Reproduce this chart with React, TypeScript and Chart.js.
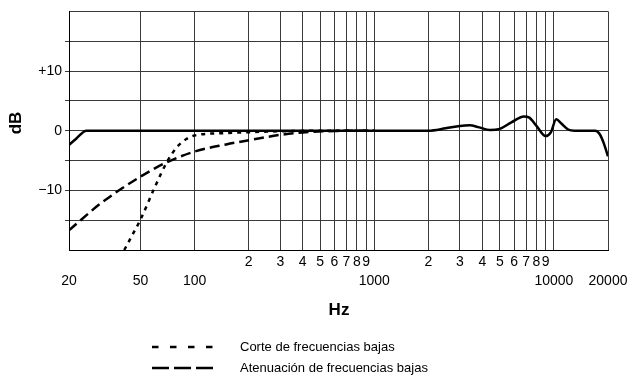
import React, { useEffect, useRef } from "react";
import { Chart, registerables } from "chart.js";
Chart.register(...registerables);

// Frequency response (solid)
const responseFreq = [20, 22, 25, 30, 50, 100, 500, 1000, 2000, 2500, 3000, 3400, 3800, 4400, 5000, 5800, 6800, 7300, 8000, 9000, 9600, 10300, 11000, 12000, 13000, 17000, 18000, 19000, 20000];
const responseDb = [-2.4, -1.3, 0, 0, 0, 0, 0, 0, 0, 0.4, 0.8, 0.9, 0.6, 0.1, 0.3, 1.4, 2.4, 2.2, 0.8, -0.9, -0.3, 1.9, 1.2, 0.2, 0, 0, -0.6, -2.2, -4.3];

// Low cut (dotted)
const lowCutFreq = [40.6, 45, 50, 60, 70, 80, 90, 100, 150, 200, 300, 500, 1000];
const lowCutDb = [-20, -17.5, -14.9, -9.5, -5.3, -2.7, -1.4, -0.8, -0.4, -0.25, -0.1, 0, 0];

// Low roll-off (dashed)
const rollOffFreq = [20, 30, 50, 70, 100, 150, 200, 300, 400, 600, 1000];
const rollOffDb = [-16.7, -12.2, -7.7, -5.3, -3.5, -2.3, -1.6, -0.7, -0.3, -0.05, 0];

const xTickValues = [20, 50, 100, 200, 300, 400, 500, 600, 700, 800, 900, 1000, 2000, 3000, 4000, 5000, 6000, 7000, 8000, 9000, 10000, 20000];
const xLowerLabels: Record<number, string> = { 20: "20", 50: "50", 100: "100", 1000: "1000", 10000: "10000", 20000: "20000" };
const yLabels: Record<number, string> = { 10: "+10", 0: "0", [-10]: "\u221210" };

const legendItems = ["Corte de frecuencias bajas", "Atenuación de frecuencias bajas"];
const xTitle = "Hz";
const yTitle = "dB";

const FONT = "'Liberation Sans', Arial, sans-serif";
const GRID = "#3a3a3a";

const zip = (xs: number[], ys: number[]) => xs.map((x, i) => ({ x, y: ys[i] }));

const overlayPlugin = {
  id: "overlay",
  afterDraw(chart: any) {
    const ctx = chart.ctx as CanvasRenderingContext2D;
    ctx.save();
    ctx.fillStyle = "#000";
    // axis titles
    ctx.font = `bold 17px ${FONT}`;
    ctx.textAlign = "center";
    ctx.textBaseline = "middle";
    ctx.fillText(xTitle, 339, 310);
    ctx.save();
    ctx.translate(16.5, 123);
    ctx.rotate(-Math.PI / 2);
    ctx.fillText(yTitle, 0, 0);
    ctx.restore();
    // legend
    ctx.strokeStyle = "#000";
    ctx.lineWidth = 2.5;
    ctx.setLineDash([6.5, 11.5]);
    ctx.beginPath();
    ctx.moveTo(152, 347);
    ctx.lineTo(214, 347);
    ctx.stroke();
    ctx.setLineDash([17, 5]);
    ctx.beginPath();
    ctx.moveTo(152, 368);
    ctx.lineTo(214, 368);
    ctx.stroke();
    ctx.setLineDash([]);
    ctx.font = `13px ${FONT}`;
    ctx.textAlign = "left";
    ctx.fillText(legendItems[0], 240, 347);
    ctx.fillText(legendItems[1], 240, 368);
    ctx.restore();
  },
};

export default function App() {
  const ref = useRef<HTMLCanvasElement>(null);
  useEffect(() => {
    if (!ref.current) return;
    const chart = new Chart(ref.current, {
      type: "line",
      data: {
        datasets: [
          {
            label: "Respuesta",
            data: zip(responseFreq, responseDb),
            borderColor: "#000",
            borderWidth: 2.5,
            pointRadius: 0,
            cubicInterpolationMode: "monotone",
            order: 0,
          },
          {
            label: legendItems[0],
            data: zip(lowCutFreq, lowCutDb),
            borderColor: "#000",
            borderWidth: 2.5,
            borderDash: [4, 5],
            pointRadius: 0,
            cubicInterpolationMode: "monotone",
            order: 1,
          },
          {
            label: legendItems[1],
            data: zip(rollOffFreq, rollOffDb),
            borderColor: "#000",
            borderWidth: 2.5,
            borderDash: [10, 5],
            pointRadius: 0,
            cubicInterpolationMode: "monotone",
            order: 2,
          },
        ],
      },
      options: {
        animation: false,
        responsive: false,
        maintainAspectRatio: false,
        layout: { padding: { top: 9, right: 27, left: 0, bottom: 0 } },
        plugins: { legend: { display: false }, tooltip: { enabled: false } },
        scales: {
          x: {
            type: "logarithmic",
            min: 20,
            max: 20000,
            afterBuildTicks: (scale: any) => {
              scale.ticks = xTickValues.map((v) => ({ value: v }));
            },
            afterFit: (scale: any) => {
              scale.height = 127;
            },
            grid: { color: GRID, lineWidth: 1, drawTicks: false },
            border: { color: "#000", width: 1 },
            ticks: {
              autoSkip: false,
              maxRotation: 0,
              padding: 3,
              color: "#000",
              font: { family: FONT, size: 14, lineHeight: 1.32 },
              callback: (value: any) => {
                const v = Number(value);
                if (xLowerLabels[v] !== undefined) return ["", xLowerLabels[v]];
                const mant = v / Math.pow(10, Math.floor(Math.log10(v) + 1e-9));
                return [String(Math.round(mant))];
              },
            },
          },
          y: {
            type: "linear",
            min: -20,
            max: 20,
            afterFit: (scale: any) => {
              scale.width = 69;
            },
            grid: {
              color: GRID,
              lineWidth: 1,
              tickLength: 4,
              tickColor: (c: any) => (c.tick && Math.abs(c.tick.value) === 20 ? "rgba(0,0,0,0)" : GRID),
            },
            border: { color: "#000", width: 1 },
            ticks: {
              stepSize: 5,
              padding: 3,
              color: "#000",
              font: { family: FONT, size: 14 },
              callback: (value: any) => {
                const v = Number(value);
                return yLabels[v] !== undefined ? yLabels[v] : "";
              },
            },
          },
        },
      },
      plugins: [overlayPlugin],
    } as any);
    return () => chart.destroy();
  }, []);
  return (
    <div style={{ position: "absolute", left: 0, top: 0, width: 635, height: 377, background: "#fff" }}>
      <canvas ref={ref} width={635} height={377} style={{ width: 635, height: 377, display: "block" }} />
    </div>
  );
}
